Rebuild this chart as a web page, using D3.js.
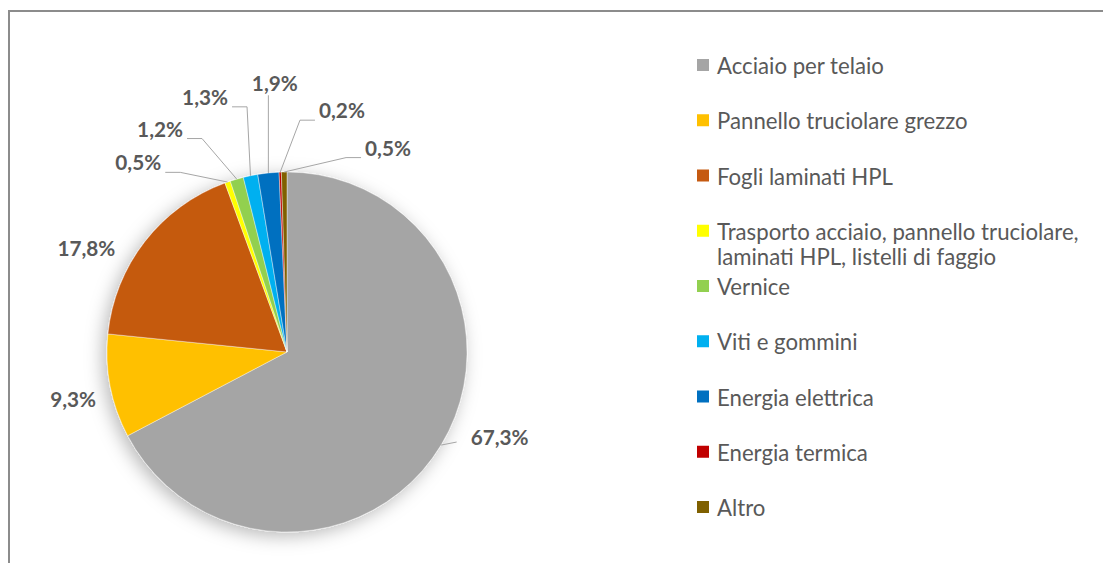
<!DOCTYPE html>
<html><head><meta charset="utf-8">
<script src="https://cdn.jsdelivr.net/npm/d3@7"></script>
<style>html,body{margin:0;padding:0;background:#fff;}svg{display:block;}</style>
</head><body>
<svg id="chart" width="1103" height="563"></svg>
<script>
// ---- data ----
const categories = [
  "Acciaio per telaio",
  "Pannello truciolare grezzo",
  "Fogli laminati HPL",
  "Trasporto acciaio, pannello truciolare, laminati HPL, listelli di faggio",
  "Vernice",
  "Viti e gommini",
  "Energia elettrica",
  "Energia termica",
  "Altro"
];
const values = [67.3, 9.3, 17.8, 0.5, 1.2, 1.3, 1.9, 0.2, 0.5];
const valueLabels = ["67,3%", "9,3%", "17,8%", "0,5%", "1,2%", "1,3%", "1,9%", "0,2%", "0,5%"];
const legendLines = [
  ["Acciaio per telaio"],
  ["Pannello truciolare grezzo"],
  ["Fogli laminati HPL"],
  ["Trasporto acciaio, pannello truciolare,", "laminati HPL, listelli di faggio"],
  ["Vernice"],
  ["Viti e gommini"],
  ["Energia elettrica"],
  ["Energia termica"],
  ["Altro"]
];

// ---- styles / layout ----
const palette = ["#A5A5A5", "#FFC000", "#C55A11", "#FFFF00", "#92D050", "#00B0F0", "#0070C0", "#C00000", "#7F6000"];
// label placement (polar, degrees clockwise from top, radius in px) and leader flag
const labelLayout = [
  {a: 111.8, r: 229, leader: true},
  {a: 257.6, r: 219, leader: false},
  {a: 297.4, r: 226, leader: false},
  {a: 321.9, r: 241, leader: true},
  {a: 330.4, r: 257, leader: true},
  {a: 342.2, r: 268, leader: true},
  {a: 357.4, r: 269, leader: true},
  {a: 12.8, r: 248, leader: true},
  {a: 26.3, r: 228, leader: true}
];
const cx = 287, cy = 352, R = 180;
const textColor = "#595959";
const fontFam = "Lato, 'Open Sans', 'Liberation Sans', sans-serif";

const svg = d3.select("#chart");

// border
svg.append("path")
  .attr("d", "M9,563 L9,11 L1103,11")
  .attr("fill", "none").attr("stroke", "#8c8c8c").attr("stroke-width", 2);

// shadow filter
const defs = svg.append("defs");
const f = defs.append("filter").attr("id", "sh").attr("x", "-30%").attr("y", "-30%").attr("width", "160%").attr("height", "160%");
f.append("feDropShadow").attr("dx", -4).attr("dy", 4).attr("stdDeviation", 9)
  .attr("flood-color", "#000").attr("flood-opacity", 0.28);

// fit font sizes to measured target widths
function fitSize(text, weight, targetW) {
  const t = svg.append("text").attr("font-family", fontFam).attr("font-weight", weight)
    .attr("font-size", 20).text(text);
  const w = t.node().getComputedTextLength();
  t.remove();
  return 20 * targetW / w;
}
const legendSize = fitSize("Acciaio per telaio", 400, 167);
const labelSize = fitSize("67,3%", 700, 58);

const pie = d3.pie().value(d => d).sort(null);
const arcs = pie(values);
const arc = d3.arc().innerRadius(0).outerRadius(R);

const g = svg.append("g").attr("transform", `translate(${cx},${cy})`);
const pieG = g.append("g").attr("filter", "url(#sh)");
pieG.selectAll("path").data(arcs).join("path")
  .attr("d", arc)
  .attr("fill", (d, i) => palette[i])
  .attr("stroke", "#fff").attr("stroke-width", 0.4);

// labels
const rad = Math.PI / 180;
arcs.forEach((d, i) => {
  const L = labelLayout[i];
  const lx = L.r * Math.sin(L.a * rad), ly = -L.r * Math.cos(L.a * rad);
  const t = g.append("text")
    .attr("x", lx).attr("y", ly)
    .attr("text-anchor", "middle").attr("dominant-baseline", "central")
    .attr("font-family", fontFam).attr("font-weight", 700).attr("font-size", labelSize)
    .attr("fill", textColor).text(valueLabels[i]);
  if (!L.leader) return;
  const w = t.node().getComputedTextLength();
  const mid = (d.startAngle + d.endAngle) / 2;
  const px = R * Math.sin(mid), py = -R * Math.cos(mid);
  let pts;
  if (Math.abs(px - lx) < w / 2 + 2) {
    pts = [[px, ly + 12], [px, py]];
  } else if (px > lx) {
    const sx = lx + w / 2 + 4, sy = ly + 10;
    pts = [[sx, sy], [Math.min(sx + 15, px), sy], [px, py]];
  } else {
    const sx = lx - w / 2 - 4, sy = ly + 10;
    pts = [[sx, sy], [Math.max(sx - 15, px), sy], [px, py]];
  }
  if (i === 0) {
    const sx = lx - w / 2 - 14;
    pts = [[sx, ly + 5], [px, py]];
  }
  g.append("path").attr("d", d3.line()(pts))
    .attr("fill", "none").attr("stroke", "#a6a6a6").attr("stroke-width", 1);
});

// legend
const legY = d3.scaleLinear().domain([0, 8]).range([65, 507]);
const leg = svg.append("g");
categories.forEach((c, i) => {
  const y = legY(i);
  leg.append("rect").attr("x", 697).attr("y", y - 6).attr("width", 12).attr("height", 12)
    .attr("fill", palette[i]);
  const t = leg.append("text").attr("x", 717).attr("y", y)
    .attr("dominant-baseline", "central")
    .attr("font-family", fontFam).attr("font-size", legendSize).attr("fill", textColor);
  legendLines[i].forEach((ln, k) => {
    t.append("tspan").attr("x", 717).attr("dy", k === 0 ? 0 : 25).text(ln);
  });
});
</script>
</body></html>
